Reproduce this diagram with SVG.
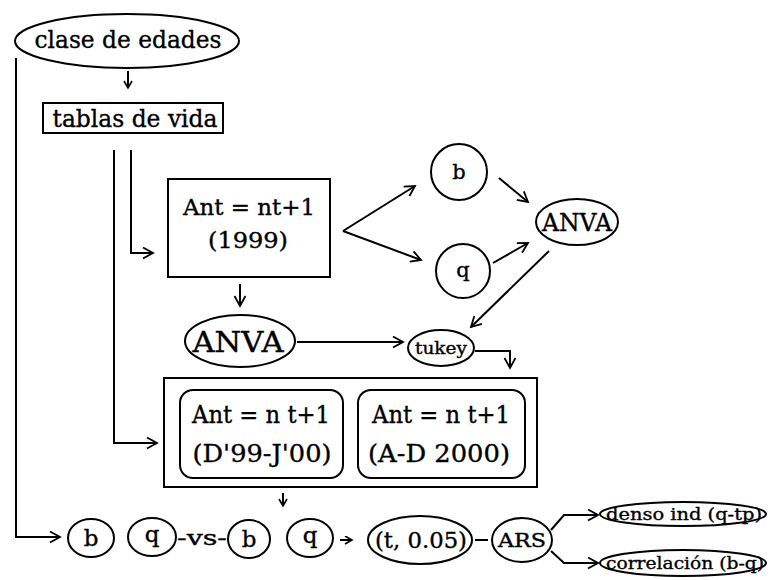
<svg xmlns="http://www.w3.org/2000/svg" width="768" height="580" viewBox="0 0 768 580">
  <defs>
    <marker id="arr" markerUnits="userSpaceOnUse" markerWidth="14" markerHeight="14" refX="11" refY="6" orient="auto">
      <path d="M1,0.5 L11,6 L1,11.5" fill="none" stroke="#000" stroke-width="1.8"/>
    </marker>
    <marker id="arrS" markerUnits="userSpaceOnUse" markerWidth="10" markerHeight="10" refX="8" refY="4.5" orient="auto">
      <path d="M1,0.5 L8,4.5 L1,8.5" fill="none" stroke="#000" stroke-width="1.6"/>
    </marker>
  </defs>
  <style>
    .shape { fill: #fff; stroke: #000; stroke-width: 2; }
    .line { fill: none; stroke: #000; stroke-width: 2; }
    text { font-family: "DejaVu Serif", "Liberation Serif", serif; fill: #000; stroke: #000; stroke-width: 0.35; text-anchor: middle; }
  </style>
  <rect width="768" height="580" fill="#fff"/>

  <!-- connectors -->
  <g id="connectors">
    <path class="line" d="M16,58 L16,537 L60,537" marker-end="url(#arr)"/>
    <path class="line" d="M128,71 L128,88" marker-end="url(#arrS)"/>
    <path class="line" d="M114,150 L114,443 L157,443" marker-end="url(#arr)"/>
    <path class="line" d="M131,150 L131,253 L153,253" marker-end="url(#arr)"/>
    <path class="line" d="M343,231 L415,186" marker-end="url(#arr)"/>
    <path class="line" d="M343,231 L421,260" marker-end="url(#arr)"/>
    <path class="line" d="M499,178 L528,202" marker-end="url(#arr)"/>
    <path class="line" d="M493,263 L528,243" marker-end="url(#arr)"/>
    <path class="line" d="M549,251 L471,327" marker-end="url(#arr)"/>
    <path class="line" d="M240,284 L240,306" marker-end="url(#arr)"/>
    <path class="line" d="M297,342 L403,342" marker-end="url(#arr)"/>
    <path class="line" d="M475,351 L510,351 L510,368" marker-end="url(#arr)"/>
    <path class="line" d="M283,493 L283,506" marker-end="url(#arrS)"/>
    <path class="line" d="M340,540 L352,540" marker-end="url(#arrS)"/>
    <path class="line" d="M475,540 L488,540"/>
    <path class="line" d="M551,530 L564,515 L598,515" marker-end="url(#arr)"/>
    <path class="line" d="M551,551 L564,563 L598,563" marker-end="url(#arr)"/>
  </g>

  <g id="clase-edades">
    <ellipse class="shape" cx="127" cy="41" rx="112" ry="27"/>
    <text x="128" y="48" font-size="25" textLength="187" lengthAdjust="spacingAndGlyphs">clase de edades</text>
  </g>

  <g id="tablas-vida">
    <rect class="shape" x="43" y="103" width="180" height="30"/>
    <text x="135" y="127" font-size="24" textLength="165" lengthAdjust="spacingAndGlyphs">tablas de vida</text>
  </g>

  <g id="ant-1999">
    <rect class="shape" x="168" y="179" width="162" height="98"/>
    <text x="249" y="215" font-size="22" textLength="132" lengthAdjust="spacingAndGlyphs">Ant = nt+1</text>
    <text x="248" y="248" font-size="22" textLength="80" lengthAdjust="spacingAndGlyphs">(1999)</text>
  </g>

  <g id="b-top">
    <circle class="shape" cx="459" cy="172" r="28"/>
    <text x="459" y="179" font-size="21">b</text>
  </g>

  <g id="q-top">
    <circle class="shape" cx="463" cy="271" r="27"/>
    <text x="463" y="277" font-size="21">q</text>
  </g>

  <g id="anva-right">
    <ellipse class="shape" cx="577" cy="222" rx="41" ry="23"/>
    <text x="577" y="231" font-size="25" textLength="70" lengthAdjust="spacingAndGlyphs">ANVA</text>
  </g>

  <g id="anva-left">
    <ellipse class="shape" cx="240" cy="341" rx="55" ry="26"/>
    <text x="238" y="352" font-size="27" textLength="91" lengthAdjust="spacingAndGlyphs">ANVA</text>
  </g>

  <g id="tukey">
    <ellipse class="shape" cx="441" cy="348" rx="33" ry="18"/>
    <text x="441" y="354" font-size="16" textLength="52" lengthAdjust="spacingAndGlyphs">tukey</text>
  </g>

  <g id="grupo-periodos">
    <rect class="shape" x="164" y="378" width="373" height="109"/>
    <rect class="shape" x="180" y="390" width="163" height="88" rx="13"/>
    <text x="261" y="423" font-size="25" textLength="138" lengthAdjust="spacingAndGlyphs">Ant = n t+1</text>
    <text x="262" y="462" font-size="25" textLength="139" lengthAdjust="spacingAndGlyphs">(D'99-J'00)</text>
    <rect class="shape" x="358" y="390" width="167" height="88" rx="13"/>
    <text x="441" y="423" font-size="25" textLength="138" lengthAdjust="spacingAndGlyphs">Ant = n t+1</text>
    <text x="439" y="462" font-size="25" textLength="142" lengthAdjust="spacingAndGlyphs">(A-D 2000)</text>
  </g>

  <g id="b1">
    <ellipse class="shape" cx="91" cy="538" rx="23" ry="19"/>
    <text x="91" y="546" font-size="23">b</text>
  </g>
  <g id="q1">
    <ellipse class="shape" cx="152" cy="537" rx="24" ry="19"/>
    <text x="152" y="542" font-size="23">q</text>
  </g>
  <g id="vs">
    <text x="202" y="545" font-size="20" textLength="50" lengthAdjust="spacingAndGlyphs">-vs-</text>
  </g>
  <g id="b2">
    <ellipse class="shape" cx="249" cy="539" rx="21" ry="19"/>
    <text x="249" y="547" font-size="23">b</text>
  </g>
  <g id="q2">
    <ellipse class="shape" cx="310" cy="538" rx="23" ry="19"/>
    <text x="310" y="543" font-size="23">q</text>
  </g>

  <g id="t-005">
    <ellipse class="shape" cx="420" cy="540" rx="52" ry="24"/>
    <text x="421" y="548" font-size="22" textLength="92" lengthAdjust="spacingAndGlyphs">(t, 0.05)</text>
  </g>

  <g id="ars">
    <ellipse class="shape" cx="522" cy="540" rx="30" ry="22"/>
    <text x="522" y="547" font-size="18" textLength="48" lengthAdjust="spacingAndGlyphs">ARS</text>
  </g>

  <g id="denso-ind">
    <ellipse class="shape" cx="683" cy="514" rx="83" ry="12"/>
    <text x="684" y="520" font-size="17" textLength="156" lengthAdjust="spacingAndGlyphs">denso ind (q-tp)</text>
  </g>

  <g id="correlacion">
    <ellipse class="shape" cx="683" cy="563" rx="83" ry="13"/>
    <text x="685" y="569" font-size="17" textLength="158" lengthAdjust="spacingAndGlyphs">correlación (b-q)</text>
  </g>
</svg>
